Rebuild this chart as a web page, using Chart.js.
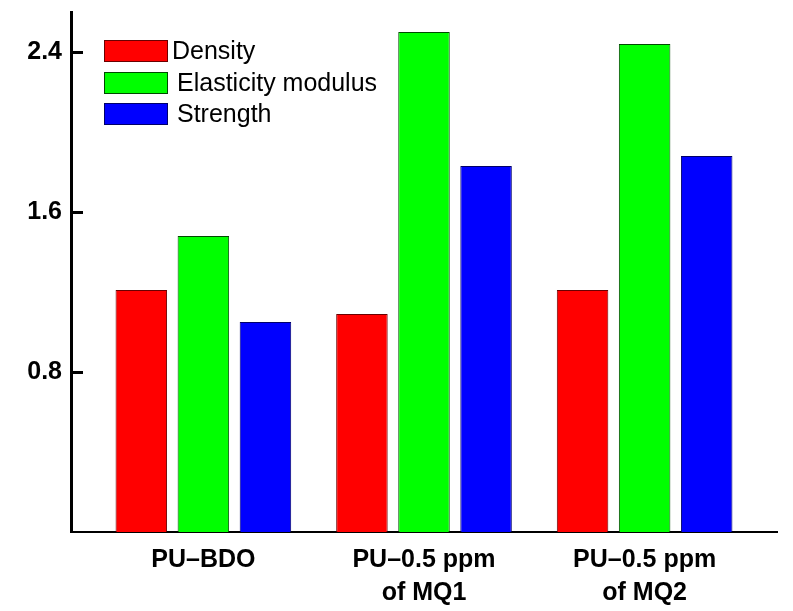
<!DOCTYPE html>
<html>
<head>
<meta charset="utf-8">
<title>PU samples</title>
<script src="https://cdn.jsdelivr.net/npm/chart.js@4.4.1/dist/chart.umd.min.js"></script>
<style>
    html, body { margin: 0; padding: 0; background: #ffffff; }
    #wrap { width: 793px; height: 611px; }
</style>
</head>
<body>
<div id="wrap"><canvas id="barChart" width="793" height="611"></canvas></div>
<script>
// categories (multi-line labels)
const categories = [
    ['PU\u2013BDO'],
    ['PU\u20130.5 ppm', 'of MQ1'],
    ['PU\u20130.5 ppm', 'of MQ2']
];
const categoryPos = [0, 1, 2];

// series values
const density = [1.21, 1.09, 1.21];
const elasticity = [1.48, 2.50, 2.44];
const strength = [1.05, 1.83, 1.88];

// y tick labels
const yTicks = [0.8, 1.6, 2.4];

const fontFamily = "'Liberation Sans', Arial, sans-serif";

function toPoints(values) {
    return values.map((v, i) => ({ x: categoryPos[i], y: v }));
}

// ticks pointing inside the plot + legend inside the plot
const customDraw = {
    id: 'customDraw',
    afterDraw(chart) {
        const c = chart.ctx;
        const yScale = chart.scales.y;
        const left = chart.chartArea.left;

        c.save();
        // inward tick marks
        c.fillStyle = '#000000';
        yTicks.forEach(t => {
            const py = Math.round(yScale.getPixelForValue(t));
            c.fillRect(left, py - 1, 12, 3);
        });

        // legend
        const boxX = 104, boxW = 64, boxH = 22;
        const rowTops = [40, 72, 103];
        const textX = [172, 177, 177];
        c.font = '25px ' + fontFamily;
        c.textBaseline = 'middle';
        c.textAlign = 'left';
        chart.data.datasets.forEach((ds, i) => {
            const top = rowTops[i];
            c.fillStyle = ds.backgroundColor;
            c.fillRect(boxX, top, boxW, boxH);
            c.lineWidth = 1;
            c.strokeStyle = ds.borderColor;
            c.strokeRect(boxX + 0.5, top + 0.5, boxW - 1, boxH - 1);
            c.fillStyle = '#000000';
            c.fillText(ds.label, textX[i], top + boxH / 2 + 1);
        });
        c.restore();
    }
};

const canvas = document.getElementById('barChart');
new Chart(canvas, {
    type: 'bar',
    data: {
        datasets: [{
            label: 'Density',
            data: toPoints(density),
            backgroundColor: '#ff0000',
            borderColor: '#6a0000',
            borderWidth: 1
        }, {
            label: 'Elasticity modulus',
            data: toPoints(elasticity),
            backgroundColor: '#00ff00',
            borderColor: '#004a00',
            borderWidth: 1
        }, {
            label: 'Strength',
            data: toPoints(strength),
            backgroundColor: '#0000ff',
            borderColor: '#00006a',
            borderWidth: 1
        }]
    },
    options: {
        responsive: false,
        animation: false,
        categoryPercentage: 0.844,
        barPercentage: 0.83,
        layout: {
            padding: { top: 12, right: 16, left: 0, bottom: 0 }
        },
        plugins: {
            legend: { display: false },
            tooltip: { enabled: false }
        },
        scales: {
            x: {
                type: 'linear',
                offset: false,
                min: -0.6,
                max: 2.6,
                afterBuildTicks: (scale) => {
                    scale.ticks = categoryPos.map(v => ({ value: v }));
                },
                afterFit: (scale) => {
                    scale.height = 79;
                    scale.paddingLeft = 0;
                    scale.paddingRight = 0;
                },
                grid: { display: false, drawTicks: false },
                border: { display: true, color: '#000000', width: 2 },
                ticks: {
                    color: '#000000',
                    padding: 12,
                    maxRotation: 0,
                    autoSkip: false,
                    font: { family: fontFamily, size: 25, weight: 'bold', lineHeight: 1.3 },
                    callback: (value) => categories[Math.round(value)]
                }
            },
            y: {
                min: 0,
                max: 2.6,
                afterBuildTicks: (scale) => {
                    scale.ticks = yTicks.map(v => ({ value: v }));
                },
                afterFit: (scale) => {
                    scale.width = 71;
                    scale.paddingTop = 0;
                    scale.paddingBottom = 0;
                },
                grid: { display: false, drawTicks: false },
                border: { display: true, color: '#000000', width: 3 },
                ticks: {
                    color: '#000000',
                    padding: 9,
                    font: { family: fontFamily, size: 25, weight: 'bold' },
                    callback: (value) => value.toFixed(1)
                }
            }
        }
    },
    plugins: [customDraw]
});
</script>
</body>
</html>
